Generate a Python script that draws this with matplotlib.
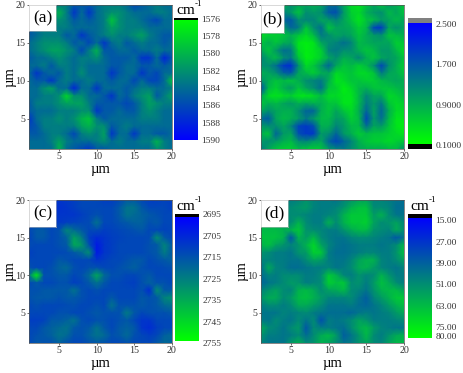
import numpy as np
import matplotlib
matplotlib.use('Agg')
import matplotlib.pyplot as plt
from matplotlib.colors import LinearSegmentedColormap, Normalize

plt.rcParams['font.family'] = ['Liberation Serif', 'DejaVu Sans']

W, H = 463, 373

# rows run from y=20 (top) to y=1 (bottom), columns x=1..20
x_um = list(range(1, 21))
y_um = list(range(20, 0, -1))

pos_g = [
    [1583,1583,1583,1584,1583,1583,1585,1585,1585,1584,1583,1583,1583,1584,1586,1585,1584,1583,1584,1584],
    [1584,1584,1583,1582,1580,1583,1587,1584,1587,1584,1583,1582,1582,1583,1584,1584,1584,1583,1583,1584],
    [1584,1583,1583,1583,1582,1583,1585,1584,1585,1584,1583,1579,1582,1583,1583,1584,1585,1586,1584,1584],
    [1585,1584,1583,1583,1583,1583,1584,1584,1584,1584,1583,1581,1582,1583,1583,1583,1584,1584,1584,1584],
    [1585,1584,1583,1583,1583,1585,1584,1587,1585,1584,1583,1582,1583,1583,1582,1581,1583,1584,1585,1585],
    [1584,1583,1582,1582,1582,1583,1585,1584,1586,1584,1587,1584,1583,1585,1584,1583,1584,1584,1585,1584],
    [1584,1583,1582,1581,1581,1582,1583,1586,1583,1580,1585,1585,1584,1584,1585,1584,1584,1583,1584,1584],
    [1585,1584,1584,1583,1582,1583,1584,1583,1583,1582,1584,1585,1585,1585,1584,1587,1587,1584,1588,1585],
    [1584,1584,1583,1585,1583,1583,1584,1583,1584,1584,1584,1585,1585,1584,1584,1585,1585,1584,1585,1584],
    [1584,1587,1585,1584,1585,1583,1584,1582,1584,1584,1584,1587,1585,1584,1584,1587,1585,1586,1584,1584],
    [1584,1585,1585,1587,1584,1583,1584,1584,1583,1584,1584,1585,1584,1584,1586,1584,1586,1586,1584,1579],
    [1584,1584,1582,1581,1584,1584,1588,1584,1584,1587,1584,1584,1584,1585,1584,1583,1583,1584,1584,1583],
    [1584,1584,1583,1583,1582,1578,1582,1582,1584,1584,1585,1587,1584,1585,1583,1582,1581,1585,1583,1581],
    [1585,1583,1583,1583,1582,1581,1581,1581,1583,1585,1585,1585,1585,1586,1585,1583,1581,1582,1583,1583],
    [1585,1584,1584,1584,1583,1583,1583,1582,1582,1587,1585,1585,1584,1585,1585,1583,1582,1583,1584,1584],
    [1587,1584,1583,1583,1582,1583,1582,1580,1579,1583,1585,1584,1584,1584,1584,1583,1583,1583,1584,1584],
    [1586,1585,1583,1583,1583,1583,1583,1581,1580,1582,1582,1585,1584,1583,1584,1584,1584,1584,1584,1584],
    [1585,1585,1584,1583,1583,1584,1586,1583,1582,1583,1581,1587,1584,1584,1587,1584,1584,1585,1585,1584],
    [1584,1584,1584,1583,1581,1583,1584,1584,1584,1583,1582,1584,1583,1584,1584,1583,1583,1580,1583,1584],
    [1584,1584,1584,1584,1580,1584,1585,1586,1587,1585,1585,1584,1584,1584,1584,1584,1584,1582,1583,1584],
]

ratio = [
    [1.2,1.2,1.0,0.9,1.2,1.0,1.0,0.9,1.0,1.5,1.5,1.0,0.5,0.4,0.7,1.0,0.7,1.1,0.9,0.7],
    [1.3,1.1,1.0,1.3,1.1,0.7,1.2,1.1,1.2,1.7,1.8,1.1,0.6,0.5,0.9,1.1,1.2,0.8,1.0,0.7],
    [1.2,1.2,1.4,1.6,1.7,1.2,1.3,1.3,1.0,1.1,1.3,1.0,0.7,0.4,0.7,0.8,1.1,1.0,0.8,1.0],
    [0.8,1.0,0.9,1.1,1.6,1.4,0.7,1.2,1.5,0.7,1.0,1.0,0.9,0.6,0.8,1.9,2.0,1.0,1.2,1.0],
    [0.5,0.6,0.6,0.7,0.9,0.7,0.5,0.8,1.4,1.2,1.0,1.1,1.0,0.7,0.9,1.1,1.2,0.7,0.8,0.9],
    [0.7,0.9,0.7,0.9,1.0,0.4,0.3,0.4,1.0,1.2,1.3,1.5,1.3,0.8,0.9,1.0,1.0,1.0,0.6,0.7],
    [1.0,0.7,1.1,1.5,1.4,0.5,0.3,0.4,0.6,1.3,1.4,1.2,1.2,0.9,0.7,0.8,1.1,1.1,0.8,0.5],
    [1.3,1.0,0.8,1.2,1.4,0.7,0.3,0.4,0.6,1.0,1.2,0.9,1.0,1.3,0.9,0.7,1.0,1.1,1.0,0.7],
    [1.2,1.2,1.5,2.0,2.1,1.2,0.5,0.7,1.1,1.6,1.0,0.7,0.8,0.6,0.8,1.2,1.9,1.2,0.9,0.6],
    [0.9,1.0,1.2,1.6,1.7,1.0,0.8,0.6,0.9,1.0,0.5,0.6,0.7,0.5,0.5,0.7,1.4,1.0,0.9,0.7],
    [1.2,0.9,0.7,0.8,0.7,0.9,1.2,1.3,1.4,0.9,0.4,0.5,0.7,0.7,0.6,0.6,0.8,0.9,1.0,0.9],
    [1.8,0.8,0.6,0.9,1.1,0.7,1.0,1.2,1.5,0.7,0.6,0.3,0.5,0.8,0.9,0.7,0.7,0.7,0.8,0.9],
    [1.0,0.5,0.4,0.5,0.6,0.4,0.4,0.5,0.8,0.5,0.5,0.4,0.4,0.8,1.3,1.0,1.0,0.5,0.6,0.8],
    [0.7,0.9,0.8,1.0,1.1,0.9,1.0,0.9,0.9,0.7,0.7,0.4,0.4,0.8,1.4,1.1,1.4,0.7,0.5,0.6],
    [1.0,1.2,1.0,0.9,0.9,1.2,1.6,1.6,0.9,0.7,1.0,0.7,0.5,0.9,1.6,1.0,1.6,0.9,0.5,0.5],
    [1.5,1.7,1.0,0.8,0.9,1.1,1.4,1.1,0.8,0.8,1.1,1.0,0.6,0.8,1.9,1.1,1.5,0.8,0.4,0.4],
    [1.1,1.2,1.2,1.0,1.3,1.9,2.0,1.8,0.9,0.9,1.3,1.1,0.8,0.8,1.5,1.0,1.1,0.7,0.4,0.3],
    [0.9,0.7,1.6,1.1,1.0,1.8,2.0,2.0,1.1,1.2,1.6,1.1,0.9,0.6,0.8,0.7,0.7,0.6,0.5,0.4],
    [1.1,1.2,1.1,0.9,0.8,1.2,1.3,1.1,1.0,1.6,1.9,1.6,1.3,0.9,0.7,0.6,0.6,0.5,0.6,0.7],
    [1.4,1.0,0.7,0.6,0.6,0.8,0.7,0.6,0.7,1.1,1.3,1.4,1.2,1.0,0.9,0.9,0.9,0.8,0.8,1.2],
]

pos_2d = [
    [2710,2709,2708,2708,2708,2709,2710,2712,2712,2712,2710,2710,2712,2716,2716,2712,2710,2710,2711,2710],
    [2710,2709,2708,2708,2707,2708,2710,2712,2712,2712,2712,2712,2716,2722,2722,2716,2712,2712,2712,2710],
    [2710,2710,2709,2708,2708,2708,2708,2710,2712,2714,2712,2712,2716,2722,2720,2718,2716,2714,2712,2712],
    [2712,2712,2712,2710,2709,2710,2711,2712,2713,2722,2712,2712,2714,2716,2718,2718,2714,2716,2712,2712],
    [2712,2716,2716,2712,2714,2726,2720,2716,2712,2713,2710,2711,2712,2713,2714,2716,2712,2712,2711,2712],
    [2711,2716,2716,2712,2714,2718,2732,2724,2710,2706,2708,2710,2711,2712,2712,2712,2713,2728,2716,2712],
    [2713,2712,2712,2712,2714,2716,2734,2730,2714,2702,2708,2710,2712,2712,2712,2712,2714,2716,2726,2716],
    [2710,2712,2712,2712,2712,2713,2716,2720,2728,2702,2708,2710,2712,2712,2712,2712,2714,2716,2724,2716],
    [2712,2712,2712,2712,2716,2714,2712,2712,2712,2708,2710,2712,2712,2714,2716,2716,2712,2714,2716,2718],
    [2714,2712,2712,2714,2718,2720,2714,2712,2714,2714,2712,2712,2714,2716,2718,2714,2712,2712,2713,2714],
    [2722,2750,2714,2714,2716,2716,2712,2714,2720,2734,2720,2714,2714,2712,2712,2714,2716,2712,2712,2712],
    [2712,2716,2712,2712,2714,2714,2710,2712,2716,2722,2716,2712,2712,2711,2710,2714,2718,2714,2714,2712],
    [2714,2714,2716,2716,2716,2716,2722,2714,2712,2714,2712,2712,2712,2712,2712,2714,2706,2728,2716,2716],
    [2714,2716,2716,2716,2714,2716,2716,2714,2712,2712,2712,2716,2712,2712,2712,2716,2714,2716,2726,2728],
    [2712,2714,2712,2712,2712,2713,2714,2712,2712,2714,2712,2722,2714,2714,2714,2716,2714,2716,2720,2722],
    [2712,2712,2712,2712,2714,2714,2712,2712,2714,2716,2714,2714,2714,2724,2716,2712,2714,2714,2714,2716],
    [2710,2710,2711,2716,2716,2718,2722,2714,2712,2714,2714,2712,2714,2716,2712,2708,2708,2712,2712,2712],
    [2712,2712,2716,2718,2720,2722,2716,2714,2716,2722,2716,2712,2716,2718,2716,2708,2706,2710,2712,2712],
    [2712,2714,2716,2718,2722,2720,2714,2714,2718,2722,2720,2714,2716,2720,2714,2712,2710,2712,2718,2720],
    [2712,2716,2714,2714,2718,2714,2712,2712,2714,2716,2714,2712,2712,2714,2712,2712,2712,2716,2720,2718],
]

fwhm = [
    [50,50,50,48,46,48,52,48,46,46,44,48,52,56,56,48,48,46,44,42],
    [50,50,50,50,50,52,54,48,46,46,48,52,60,64,64,50,50,48,42,42],
    [52,52,50,50,50,50,48,46,46,48,50,60,66,66,66,54,60,50,44,44],
    [58,58,56,52,50,60,50,46,46,60,50,60,66,66,68,56,50,52,56,48],
    [62,62,62,60,60,66,52,50,48,46,46,52,58,62,62,52,50,48,58,50],
    [64,64,64,60,36,60,54,62,50,46,44,44,48,50,50,48,46,44,36,44],
    [60,64,56,52,48,52,60,70,56,48,44,42,44,46,46,46,44,46,50,62],
    [52,50,46,46,44,52,54,68,66,46,42,42,44,46,48,48,46,46,52,64],
    [48,48,46,46,44,44,50,56,54,46,44,44,48,56,60,60,48,46,50,56],
    [42,58,48,46,42,42,44,46,46,48,44,46,50,58,60,54,48,46,44,48],
    [42,48,46,50,50,50,46,46,50,66,60,48,46,52,48,50,60,52,46,46],
    [40,44,46,50,54,52,46,48,50,68,64,66,50,52,46,54,64,58,50,46],
    [48,52,56,50,48,60,62,58,50,56,58,62,50,48,44,52,60,62,62,56],
    [52,58,58,50,54,62,64,60,54,48,48,48,50,44,38,48,54,60,66,66],
    [46,50,50,46,50,58,58,54,50,44,44,44,46,42,40,44,48,54,60,64],
    [44,44,44,48,46,48,50,46,44,42,42,42,40,44,46,44,46,48,54,58],
    [46,44,50,46,44,50,44,50,34,46,44,46,50,56,52,46,46,46,48,50],
    [58,50,48,44,50,54,36,50,46,46,44,42,50,58,62,54,48,46,44,44],
    [52,46,46,44,46,50,42,50,58,62,54,38,44,52,62,50,46,52,58,60],
    [48,44,44,44,54,60,50,52,60,56,50,44,46,52,56,50,48,56,62,62],
]

ticks_a = [1576, 1578, 1580, 1582, 1584, 1586, 1588, 1590]
ticks_b = [2.5, 1.7, 0.9, 0.1]
ticks_c = [2695, 2705, 2715, 2725, 2735, 2745, 2755]
ticks_d = [15, 27, 39, 51, 63, 75, 80]

labels_a = [str(t) for t in ticks_a]
labels_b = ['2.500', '1.700', '0.9000', '0.1000']
labels_c = [str(t) for t in ticks_c]
labels_d = ['%.2f' % t for t in ticks_d]

axis_ticks = [5, 10, 15, 20]

# green at one end of the scale, blue at the other
green_blue = LinearSegmentedColormap.from_list('gb', ['#00ff00', '#0000ff'])
blue_green = LinearSegmentedColormap.from_list('bg', ['#0000ff', '#00ff00'])


def px_axes(fig, x0, y0, x1, y1):
    # pixel box measured from the top left of the image
    return fig.add_axes([x0 / W, 1 - y1 / H, (x1 - x0) / W, (y1 - y0) / H])


def draw_map(fig, box, values, cmap, vmin, vmax, tag, tag_box):
    ax = px_axes(fig, *box)
    ax.pcolormesh(x_um, y_um, np.array(values), cmap=cmap, vmin=vmin, vmax=vmax,
                  shading='gouraud', rasterized=True)
    ax.set_xlim(1, 20)
    ax.set_ylim(1, 20)
    ax.set_xticks(axis_ticks)
    ax.set_yticks(axis_ticks)
    ax.tick_params(length=1.5, width=0.5, labelsize=7.2, pad=1, colors='#333333')
    for s in ax.spines.values():
        s.set_linewidth(0.5)
        s.set_color('#555555')
    ax.set_xlabel('\u00b5m', fontsize=10.5, labelpad=1)
    ax.set_ylabel('\u00b5m', fontsize=10.5, labelpad=-1)
    # white tag box in the corner
    bx = px_axes(fig, *tag_box)
    bx.set_xticks([])
    bx.set_yticks([])
    for s in bx.spines.values():
        s.set_linewidth(0.4)
        s.set_color('#bbbbbb')
    bx.text(0.5, 0.5, tag, fontsize=12.5, ha='center', va='center', transform=bx.transAxes)
    return ax


def draw_bar(fig, box, cmap, vmin, vmax, y_top, y_bottom, ticks, labels, caps):
    cax = px_axes(fig, *box)
    grad = np.linspace(vmin, vmax, 256).reshape(-1, 1)
    cax.imshow(grad, cmap=cmap, norm=Normalize(vmin, vmax), aspect='auto',
               extent=[0, 1, vmax, vmin], interpolation='bilinear')
    for lo, hi, col in caps:
        cax.axhspan(lo, hi, color=col, lw=0)
    cax.set_xlim(0, 1)
    cax.set_ylim(y_bottom, y_top)
    cax.set_xticks([])
    cax.set_yticks([])
    for s in cax.spines.values():
        s.set_visible(False)
    tr = cax.get_yaxis_transform()
    for t, lab in zip(ticks, labels):
        cax.text(1.14, t, lab, transform=tr, fontsize=6.8, va='center', ha='left',
                 color='#333333', clip_on=False)
    return cax


def cm_label(fig, x, y):
    fig.text(x / W, 1 - y / H, 'cm', fontsize=11, ha='left', va='baseline')
    fig.text((x + 19) / W, 1 - (y - 8) / H, '-1', fontsize=6.5, ha='left', va='baseline')


fig = plt.figure(figsize=(W / 100, H / 100), dpi=100)
fig.patch.set_facecolor('white')

draw_map(fig, (29, 5, 172, 149), pos_g, green_blue, 1575.8, 1589.9, '(a)', (29, 5, 56, 31))
draw_bar(fig, (174, 18, 198, 140), green_blue, 1575.8, 1589.9, 1575.8, 1589.9,
         ticks_a, labels_a, [(1575.8, 1576.0, 'black')])
cm_label(fig, 176, 14)

draw_map(fig, (261, 5, 404, 149), ratio, green_blue, 0.14, 2.54, '(b)', (261, 5, 284, 33))
draw_bar(fig, (408, 18, 432, 149), green_blue, 0.14, 2.54, 2.639, 0.04,
         ticks_b, labels_b, [(2.54, 2.639, '#808080'), (0.04, 0.14, 'black')])

draw_map(fig, (29, 200, 172, 343), pos_2d, blue_green, 2696, 2753.6, '(c)', (29, 200, 56, 227))
draw_bar(fig, (175, 214, 199, 341), blue_green, 2696, 2753.6, 2694.5, 2753.6,
         ticks_c, labels_c, [(2694.5, 2696, 'black')])
cm_label(fig, 176, 210)

draw_map(fig, (261, 200, 404, 343), fwhm, blue_green, 13.2, 80.6, '(d)', (261, 200, 288, 227))
draw_bar(fig, (408, 214, 432, 338), blue_green, 13.2, 80.6, 11, 80.6,
         ticks_d, labels_d, [(11, 13.2, 'black')])
cm_label(fig, 410, 210)

plt.savefig('out.png', dpi=100, facecolor='white')
